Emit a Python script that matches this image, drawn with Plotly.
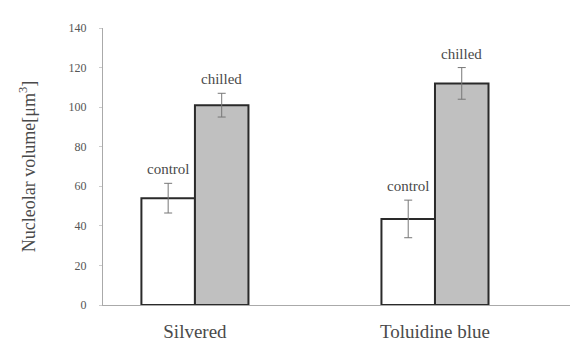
import plotly.graph_objects as go

# Nucleolar volume by staining method and treatment
stains = ["Silvered", "Toluidine blue"]
control_mean = [54, 43.5]
control_err = [7.5, 9.5]
chilled_mean = [101, 112]
chilled_err = [6, 8]
y_ticks = [0, 20, 40, 60, 80, 100, 120, 140]

FONT = "Liberation Serif"
EDGE = "#2a2a2a"
TEXT = "#4a4a4a"

fig = go.Figure()
fig.add_trace(go.Bar(
    x=stains, y=control_mean, name="control",
    marker=dict(color="white", line=dict(color=EDGE, width=2)),
    error_y=dict(type="data", array=control_err, color="#777777",
                 thickness=1, width=4),
))
fig.add_trace(go.Bar(
    x=stains, y=chilled_mean, name="chilled",
    marker=dict(color="#c0c0c0", line=dict(color=EDGE, width=2)),
    error_y=dict(type="data", array=chilled_err, color="#777777",
                 thickness=1, width=4),
))

# group labels placed above each error bar
for name, means, errs, off in [("control", control_mean, control_err, -0.11),
                               ("chilled", chilled_mean, chilled_err, 0.11)]:
    for i, (m, e) in enumerate(zip(means, errs)):
        fig.add_annotation(
            x=i + off, y=m + e, xref="x", yref="y",
            text=name, showarrow=False, yanchor="bottom", yshift=4,
            font=dict(family=FONT, size=15, color=TEXT),
        )

fig.update_layout(
    width=570, height=342,
    margin=dict(l=103, r=0, t=28, b=37),
    paper_bgcolor="white", plot_bgcolor="white",
    barmode="group", bargap=0.554, bargroupgap=0,
    showlegend=False,
    font=dict(family=FONT, color=TEXT),
)
fig.update_xaxes(
    type="category", range=[-0.383, 1.5625],
    showline=True, linecolor="#aaaaaa", linewidth=1,
    ticks="", ticklabelstandoff=9,
    tickfont=dict(family=FONT, size=19, color=TEXT),
    showgrid=False, zeroline=False,
)
fig.update_yaxes(
    range=[0, 140], tickvals=y_ticks,
    showline=True, linecolor="#aaaaaa", linewidth=1,
    ticks="outside", ticklen=3, tickcolor="#cccccc",
    ticklabelstandoff=10,
    tickfont=dict(family=FONT, size=12, color="#555555"),
    showgrid=False, zeroline=False,
    title=dict(text="Nucleolar volume[μm<sup>3</sup>]",
               font=dict(family=FONT, size=18, color=TEXT),
               standoff=28),
)

fig.write_html("out.html")
